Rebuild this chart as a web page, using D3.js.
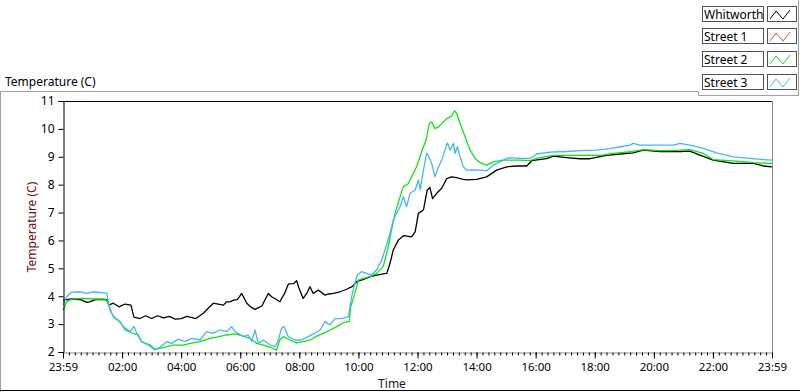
<!DOCTYPE html>
<html>
<head>
<meta charset="utf-8">
<script src="https://cdn.jsdelivr.net/npm/d3@7"></script>
<style>
  body { margin: 0; background: #fff; }
  svg { display: block; font-family: "Noto Sans", "Open Sans", sans-serif; }
</style>
</head>
<body>
<div id="chart"></div>
<script>
// series names + colours
var seriesNames = ["Whitworth", "Street 1", "Street 2", "Street 3"];
var seriesColors = ["#000000", "#ff3b3b", "#14e014", "#45b5f5"];

// hour of day (0 = 23:59 previous day) and temperature (C)
var whitworthHours = [0, 0.3, 0.6, 0.8, 0.9, 1.1, 1.3, 1.48, 1.55, 1.7,
  1.9, 2.1, 2.3, 2.4, 2.6, 2.8, 3.0, 3.2, 3.4, 3.6,
  3.8, 4.0, 4.2, 4.5, 4.75, 4.9, 5.09, 5.25, 5.43, 5.54,
  5.65, 5.77, 5.9, 6.05, 6.22, 6.35, 6.5, 6.73, 6.95, 7.06,
  7.2, 7.34, 7.5, 7.63, 7.8, 7.91, 7.97, 8.13, 8.25, 8.36,
  8.47, 8.64, 8.87, 9.0, 9.15, 9.38, 9.6, 9.8, 9.94, 10.17,
  10.4, 10.62, 10.84, 10.96, 11.07, 11.18, 11.35, 11.52, 11.8, 11.92,
  12.03, 12.2, 12.33, 12.42, 12.51, 12.65, 12.82, 12.99, 13.15, 13.33,
  13.5, 13.67, 14.0, 14.34, 14.68, 15.02, 15.36, 15.7, 15.87, 16.37,
  16.6, 17.05, 17.5, 17.84, 18.4, 18.86, 19.3, 19.64, 20.21, 20.89,
  21.22, 21.56, 22.01, 22.69, 23.37, 23.71, 24];
var whitworthTemp = [3.86, 3.9, 3.88, 3.78, 3.8, 3.88, 3.88, 3.88, 3.68, 3.75,
  3.62, 3.72, 3.68, 3.25, 3.2, 3.3, 3.2, 3.3, 3.22, 3.28,
  3.18, 3.2, 3.28, 3.2, 3.39, 3.55, 3.75, 3.72, 3.68, 3.8,
  3.8, 3.86, 3.88, 4.1, 3.75, 3.62, 3.53, 3.65, 4.1, 3.98,
  3.9, 3.8, 4.1, 4.44, 4.45, 4.56, 4.34, 3.92, 4.1, 4.34,
  4.1, 4.22, 4.04, 4.08, 4.1, 4.16, 4.25, 4.35, 4.52, 4.6,
  4.7, 4.76, 4.8, 4.82, 5.18, 5.66, 6.01, 6.17, 6.13, 6.31,
  6.97, 7.09, 7.81, 7.9, 7.5, 7.69, 7.87, 8.22, 8.28, 8.25,
  8.2, 8.17, 8.19, 8.28, 8.52, 8.64, 8.67, 8.67, 8.86, 8.93,
  9.02, 8.97, 8.93, 8.93, 9.05, 9.1, 9.14, 9.24, 9.19, 9.19,
  9.2, 9.06, 8.88, 8.76, 8.76, 8.67, 8.64];

// Street 1 has no visible trace in the picture
var street1Hours = [];
var street1Temp = [];

var street2Hours = [0, 0.12, 0.29, 0.58, 1.03, 1.42, 1.53, 1.65, 1.76, 1.93,
  2.1, 2.32, 2.55, 2.66, 2.95, 3.11, 3.28, 3.51, 3.73, 4.07,
  4.3, 4.64, 4.98, 5.2, 5.54, 5.8, 5.99, 6.33, 6.56, 6.78,
  7.01, 7.23, 7.34, 7.46, 7.68, 7.91, 8.13, 8.36, 8.59, 8.81,
  9.04, 9.27, 9.49, 9.69, 9.74, 9.88, 10.0, 10.17, 10.39, 10.62,
  10.84, 11.01, 11.12, 11.24, 11.41, 11.52, 11.69, 11.8, 11.97, 12.14,
  12.29, 12.4, 12.48, 12.59, 12.71, 12.82, 12.99, 13.16, 13.25, 13.33,
  13.44, 13.61, 13.78, 13.95, 14.12, 14.34, 14.57, 14.9, 15.47, 15.81,
  16.03, 16.6, 17.5, 18.18, 18.63, 19.3, 19.64, 20.21, 20.89, 21.22,
  21.68, 22.01, 22.69, 23.37, 24];
var street2Temp = [3.5, 3.8, 3.89, 3.92, 3.9, 3.9, 3.75, 3.39, 3.2, 3.09,
  2.79, 2.69, 2.61, 2.37, 2.25, 2.1, 2.13, 2.19, 2.25, 2.25,
  2.31, 2.37, 2.49, 2.53, 2.61, 2.65, 2.61, 2.49, 2.31, 2.25,
  2.17, 2.07, 2.43, 2.55, 2.43, 2.33, 2.37, 2.43, 2.57, 2.67,
  2.79, 2.91, 3.05, 3.09, 3.62, 4.1, 4.58, 4.64, 4.7, 4.82,
  5.06, 5.77, 6.37, 6.97, 7.57, 7.92, 8.04, 8.28, 8.64, 9.18,
  9.6, 10.19, 10.25, 10.01, 10.07, 10.19, 10.37, 10.46, 10.65, 10.55,
  10.19, 9.72, 9.24, 8.94, 8.79, 8.7, 8.82, 8.88, 8.88, 8.86,
  8.94, 9.05, 9.05, 9.05, 9.12, 9.19, 9.26, 9.22, 9.24, 9.26,
  9.12, 8.9, 8.85, 8.79, 8.76];

var street3Hours = [0, 0.12, 0.29, 0.58, 0.8, 1.03, 1.31, 1.48, 1.59, 1.7,
  1.87, 2.04, 2.27, 2.4, 2.52, 2.66, 2.89, 3.11, 3.28, 3.51,
  3.68, 3.9, 4.13, 4.36, 4.64, 4.86, 5.09, 5.31, 5.54, 5.71,
  5.82, 5.93, 6.1, 6.27, 6.39, 6.5, 6.61, 6.78, 7.01, 7.18,
  7.29, 7.4, 7.48, 7.63, 7.85, 8.07, 8.3, 8.52, 8.7, 8.87,
  9.04, 9.21, 9.43, 9.66, 9.77, 9.85, 9.96, 10.11, 10.28, 10.45,
  10.62, 10.79, 10.9, 11.07, 11.18, 11.29, 11.41, 11.52, 11.63, 11.75,
  11.92, 12.03, 12.09, 12.2, 12.31, 12.37, 12.48, 12.59, 12.71, 12.82,
  12.93, 13.01, 13.1, 13.22, 13.27, 13.35, 13.44, 13.55, 13.67, 13.89,
  14.12, 14.34, 14.57, 14.9, 15.12, 15.47, 15.81, 16.03, 16.49, 17.05,
  17.5, 18.06, 18.52, 18.86, 19.19, 19.3, 19.53, 19.98, 20.66, 20.89,
  21.22, 21.68, 22.12, 22.69, 23.26, 23.71, 24];
var street3Temp = [3.68, 3.98, 4.14, 4.16, 4.1, 4.16, 4.13, 4.1, 3.5, 3.27,
  3.15, 2.91, 2.73, 2.91, 2.61, 2.37, 2.25, 2.07, 2.17, 2.37,
  2.31, 2.46, 2.37, 2.49, 2.43, 2.73, 2.67, 2.79, 2.73, 2.91,
  2.73, 2.67, 2.55, 2.61, 2.37, 2.79, 2.31, 2.43, 2.25, 2.19,
  2.43, 2.85, 2.91, 2.55, 2.43, 2.43, 2.55, 2.67, 2.79, 3.09,
  2.97, 3.2, 3.2, 3.27, 3.98, 4.34, 4.76, 4.88, 4.82, 4.76,
  4.95, 5.3, 5.66, 6.25, 6.73, 6.97, 7.21, 7.57, 7.21, 7.69,
  7.81, 8.17, 7.81, 8.52, 9.12, 9.05, 8.76, 8.28, 8.64, 8.88,
  9.24, 9.5, 9.24, 9.48, 9.12, 9.36, 9.0, 8.64, 8.52, 8.53,
  8.52, 8.5, 8.7, 8.88, 8.97, 8.94, 8.94, 9.1, 9.17, 9.19,
  9.22, 9.24, 9.29, 9.36, 9.42, 9.48, 9.42, 9.42, 9.42, 9.48,
  9.42, 9.3, 9.14, 9.0, 8.94, 8.9, 8.88];

// axis ticks
var yTicks = [2, 3, 4, 5, 6, 7, 8, 9, 10, 11];
var xTickHours = [0, 2, 4, 6, 8, 10, 12, 14, 16, 18, 20, 22, 24];
var xTickLabels = ["23:59", "02:00", "04:00", "06:00", "08:00", "10:00", "12:00",
  "14:00", "16:00", "18:00", "20:00", "22:00", "23:59"];

function drawChart() {
  var W = 800, H = 392;
  var margin = {top: 101, right: 28, bottom: 40, left: 63},
      width = W - margin.left - margin.right,
      height = H - margin.top - margin.bottom;

  var svg = d3.select("#chart").append("svg")
      .attr("width", W)
      .attr("height", H);

  // outer panel lines
  svg.append("polyline")
    .attr("points", "0.5,392 0.5,91.5 698.5,91.5 698.5,95.5 798.5,95.5 798.5,0")
    .attr("fill", "none").attr("stroke", "#a0a0a0");
  svg.append("line")
    .attr("x1", 0).attr("x2", W).attr("y1", 390.5).attr("y2", 390.5)
    .attr("stroke", "#000");

  svg.append("text")
    .attr("x", 5).attr("y", 86)
    .attr("font-size", 12)
    .attr("fill", "#000")
    .text("Temperature (C)");

  var g = svg.append("g")
    .attr("transform", "translate(" + margin.left + "," + margin.top + ")");

  var x = d3.scaleLinear().domain([0, 24]).range([0, width]);
  var y = d3.scaleLinear().domain([2, 11]).range([height, 0]);

  // series
  var series = [
    {hours: whitworthHours, temp: whitworthTemp},
    {hours: street1Hours, temp: street1Temp},
    {hours: street2Hours, temp: street2Temp},
    {hours: street3Hours, temp: street3Temp}
  ];

  var line = d3.line()
    .x(function(d) { return x(d[0]); })
    .y(function(d) { return y(d[1]); });

  series.forEach(function(s, i) {
    var pts = s.hours.map(function(h, k) { return [h, s.temp[k]]; });
    if (!pts.length) return;
    g.append("path")
      .datum(pts)
      .attr("fill", "none")
      .attr("stroke", seriesColors[i])
      .attr("stroke-width", 1.3)
      .attr("stroke-linejoin", "round")
      .attr("d", line);
  });

  // frame: top + left black, right + bottom gray
  g.append("line").attr("x1", width + 0.5).attr("x2", width + 0.5)
    .attr("y1", 0).attr("y2", height).attr("stroke", "#8c8c8c");
  g.append("line").attr("x1", 0).attr("x2", width)
    .attr("y1", 0.5).attr("y2", 0.5).attr("stroke", "#000");

  // Y axis
  var yAxis = g.append("g")
    .attr("transform", "translate(0.5,0)")
    .call(d3.axisLeft(y).tickValues(yTicks).tickSize(5).tickPadding(4).tickFormat(d3.format("d")));
  yAxis.select(".domain").attr("stroke", "#000");
  yAxis.selectAll("text").attr("font-size", 12).attr("font-family", "Noto Sans").attr("fill", "#000");

  // X axis, minor + major ticks
  var minor = g.append("g")
    .attr("transform", "translate(0," + (height + 0.5) + ")")
    .call(d3.axisBottom(x).tickValues(d3.range(0, 24.01, 0.2)).tickSize(3).tickFormat(""));
  minor.select(".domain").attr("stroke", "#8c8c8c");
  var xAxis = g.append("g")
    .attr("transform", "translate(0," + (height + 0.5) + ")")
    .call(d3.axisBottom(x).tickValues(xTickHours).tickSize(6).tickPadding(4)
      .tickFormat(function(d, i) { return xTickLabels[i]; }));
  xAxis.select(".domain").remove();
  xAxis.selectAll("text").attr("font-size", 11.5).attr("font-family", "Noto Sans").attr("fill", "#000");

  // axis titles
  svg.append("text")
    .attr("x", 392).attr("y", 388)
    .attr("text-anchor", "middle")
    .attr("font-size", 12)
    .attr("fill", "#141432")
    .text("Time");
  svg.append("text")
    .attr("transform", "translate(36,227) rotate(-90)")
    .attr("text-anchor", "middle")
    .attr("font-size", 12)
    .attr("fill", "#6e0a0a")
    .text("Temperature (C)");

  // legend
  var legend = svg.append("g");
  seriesNames.forEach(function(name, i) {
    var ly = 5.5 + i * 22.7;
    var row = legend.append("g").attr("transform", "translate(0," + Math.round(ly) + ")");
    row.append("rect").attr("x", 702.5).attr("y", 0.5).attr("width", 61).attr("height", 15)
      .attr("fill", "#fff").attr("stroke", "#505050");
    row.append("text").attr("x", 704).attr("y", 12.5)
      .attr("font-size", 12).attr("fill", "#000").text(name);
    row.append("rect").attr("x", 767.5).attr("y", 0.5).attr("width", 29).attr("height", 15)
      .attr("fill", "#fff").attr("stroke", "#505050");
    row.append("polyline")
      .attr("points", "770,13 776,5 783,13 790,4")
      .attr("fill", "none").attr("stroke", seriesColors[i]).attr("stroke-width", 1);
  });
}

drawChart();
</script>
</body>
</html>
